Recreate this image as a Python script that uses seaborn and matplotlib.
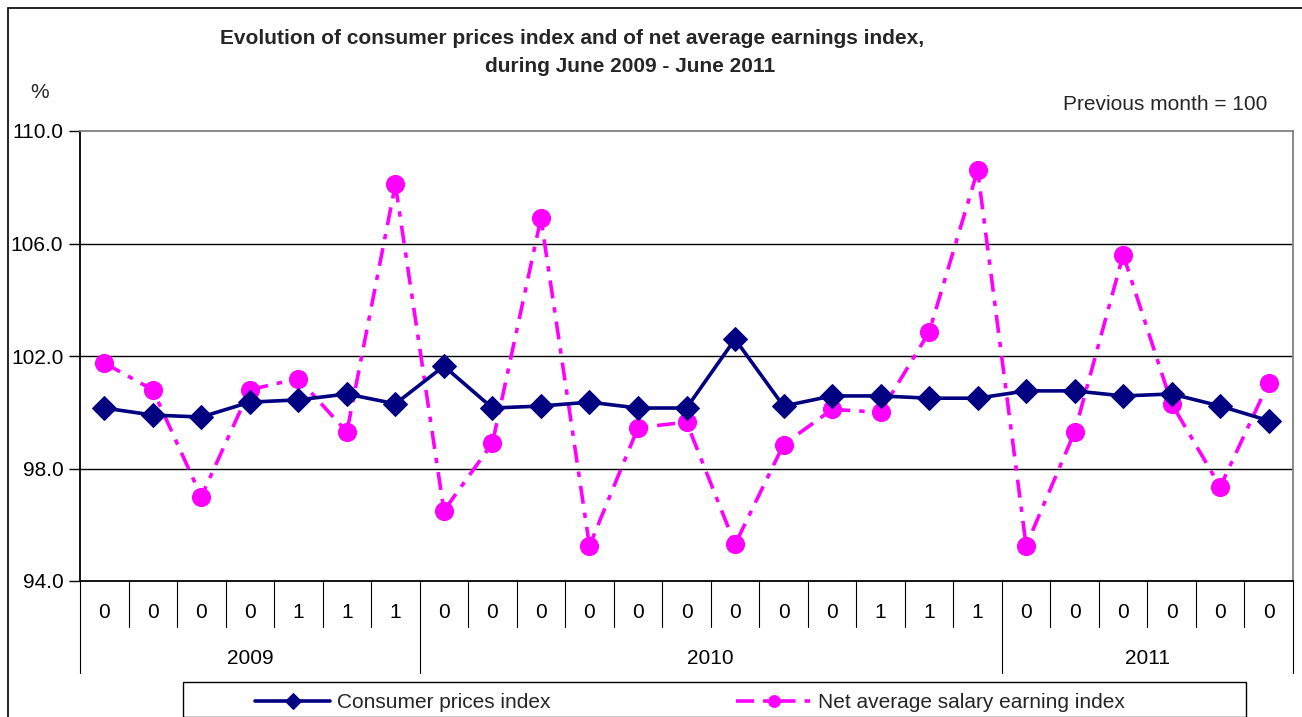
import matplotlib
matplotlib.use("Agg")
import matplotlib.pyplot as plt
import matplotlib.transforms as mtransforms
from matplotlib.patches import Rectangle
import seaborn as sns
import pandas as pd
import numpy as np

# ---- data ----
month_labels = ["0", "0", "0", "0", "1", "1", "1",
                "0", "0", "0", "0", "0", "0", "0", "0", "0", "1", "1", "1",
                "0", "0", "0", "0", "0", "0"]
years = ["2009", "2010", "2011"]
year_counts = [7, 12, 6]
cpi = [100.15, 99.90, 99.83, 100.36, 100.44, 100.65, 100.30,
       101.64, 100.15, 100.22, 100.36, 100.15, 100.15, 102.60, 100.22,
       100.58, 100.58, 100.50, 100.50,
       100.76, 100.76, 100.58, 100.65, 100.22, 99.70]
salary = [101.75, 100.80, 97.00, 100.80, 101.20, 99.30, 108.10,
          96.50, 98.90, 106.90, 95.25, 99.45, 99.65, 95.30, 98.85,
          100.10, 100.00, 102.85, 108.60,
          95.25, 99.30, 105.60, 100.30, 97.35, 101.05]
series_names = ["Consumer prices index", "Net average salary earning index"]
yticks = [94.0, 98.0, 102.0, 106.0, 110.0]

sns.set_theme(style="white")
plt.rcParams["font.family"] = ["Liberation Sans", "DejaVu Sans"]

W, H = 1302, 717
fig = plt.figure(figsize=(W / 100, H / 100), dpi=100)
ax = fig.add_axes([80 / W, 1 - 581 / H, (1293 - 80) / W, 450 / H])

idx = np.arange(len(cpi))
df = pd.DataFrame({"idx": idx, "cpi": cpi, "salary": salary})

sns.lineplot(data=df, x="idx", y="cpi", ax=ax, color="#000080", marker="D",
             markersize=12, markeredgecolor="#000080", linewidth=2.6,
             label=series_names[0], zorder=3)
sns.lineplot(data=df, x="idx", y="salary", ax=ax, color="#FF00FF", marker="o",
             markersize=13, markeredgecolor="#FF00FF", linewidth=2.6,
             linestyle=(0, (5, 2.5, 1.5, 2.5)), label=series_names[1], zorder=2)

ax.set_xlim(-0.5, len(cpi) - 0.5)
ax.set_ylim(94, 110)
ax.set_yticks(yticks)
ax.set_yticklabels([f"{v:.1f}" for v in yticks], fontsize=15, color="black")
ax.set_xticks([])
ax.set_xlabel("")
ax.set_ylabel("")
ax.tick_params(axis="y", which="both", left=True, length=8, width=1,
               color="black", pad=4)
for y in yticks[1:-1]:
    ax.axhline(y, color="#000000", lw=1.0, zorder=1)
for s in ["left", "bottom"]:
    ax.spines[s].set_color("#000000")
    ax.spines[s].set_linewidth(1.3)
for s in ["top", "right"]:
    ax.spines[s].set_color("#808080")
    ax.spines[s].set_linewidth(1.3)

# category axis (two-level)
trans = mtransforms.blended_transform_factory(ax.transData, ax.transAxes)
for i, lab in enumerate(month_labels):
    ax.text(i, -31 / 450, lab, transform=trans, ha="center", va="center",
            fontsize=15, color="black")
bounds = np.concatenate([[0], np.cumsum(year_counts)]) - 0.5
for i in range(len(cpi) + 1):
    xb = i - 0.5
    bottom = -92 / 450 if xb in bounds else -46 / 450
    ax.plot([xb, xb], [0, bottom], transform=trans, color="black", lw=0.8,
            clip_on=False)
for k, yr in enumerate(years):
    ax.text((bounds[k] + bounds[k + 1]) / 2, -77 / 450, yr, transform=trans,
            ha="center", va="center", fontsize=15, color="black")

# legend
handles, labels = ax.get_legend_handles_labels()
leg = ax.legend(handles, labels, ncol=2, frameon=False, fontsize=15,
                loc="center left", bbox_to_anchor=(255 / W, 1 - 703 / H),
                bbox_transform=fig.transFigure, borderpad=0, borderaxespad=0,
                handlelength=3.6, handletextpad=0.34, columnspacing=8.9,
                markerscale=0.65)
fig.patches.append(Rectangle((183 / W, 0), (1246 - 183) / W, 1 - 682 / H - 0.0,
                             transform=fig.transFigure, fill=False,
                             edgecolor="black", lw=1, figure=fig))
# outer chart border
fig.patches.append(Rectangle((8 / W, -0.1), 1.2, 1 - 8 / H + 0.1,
                             transform=fig.transFigure, fill=False,
                             edgecolor="black", lw=1.2, figure=fig))

# titles and notes
fig.text(572 / W, 1 - 38 / H, "Evolution of consumer prices index and of net average earnings index,",
         ha="center", va="center", fontsize=15, fontweight="bold")
fig.text(630 / W, 1 - 66 / H, "during June 2009 - June 2011",
         ha="center", va="center", fontsize=15, fontweight="bold")
fig.text(40 / W, 1 - 92 / H, "%", ha="center", va="center", fontsize=15)
fig.text(1267 / W, 1 - 105 / H, "Previous month = 100", ha="right",
         va="center", fontsize=15)

fig.savefig("out.png", dpi=100, facecolor="white")
